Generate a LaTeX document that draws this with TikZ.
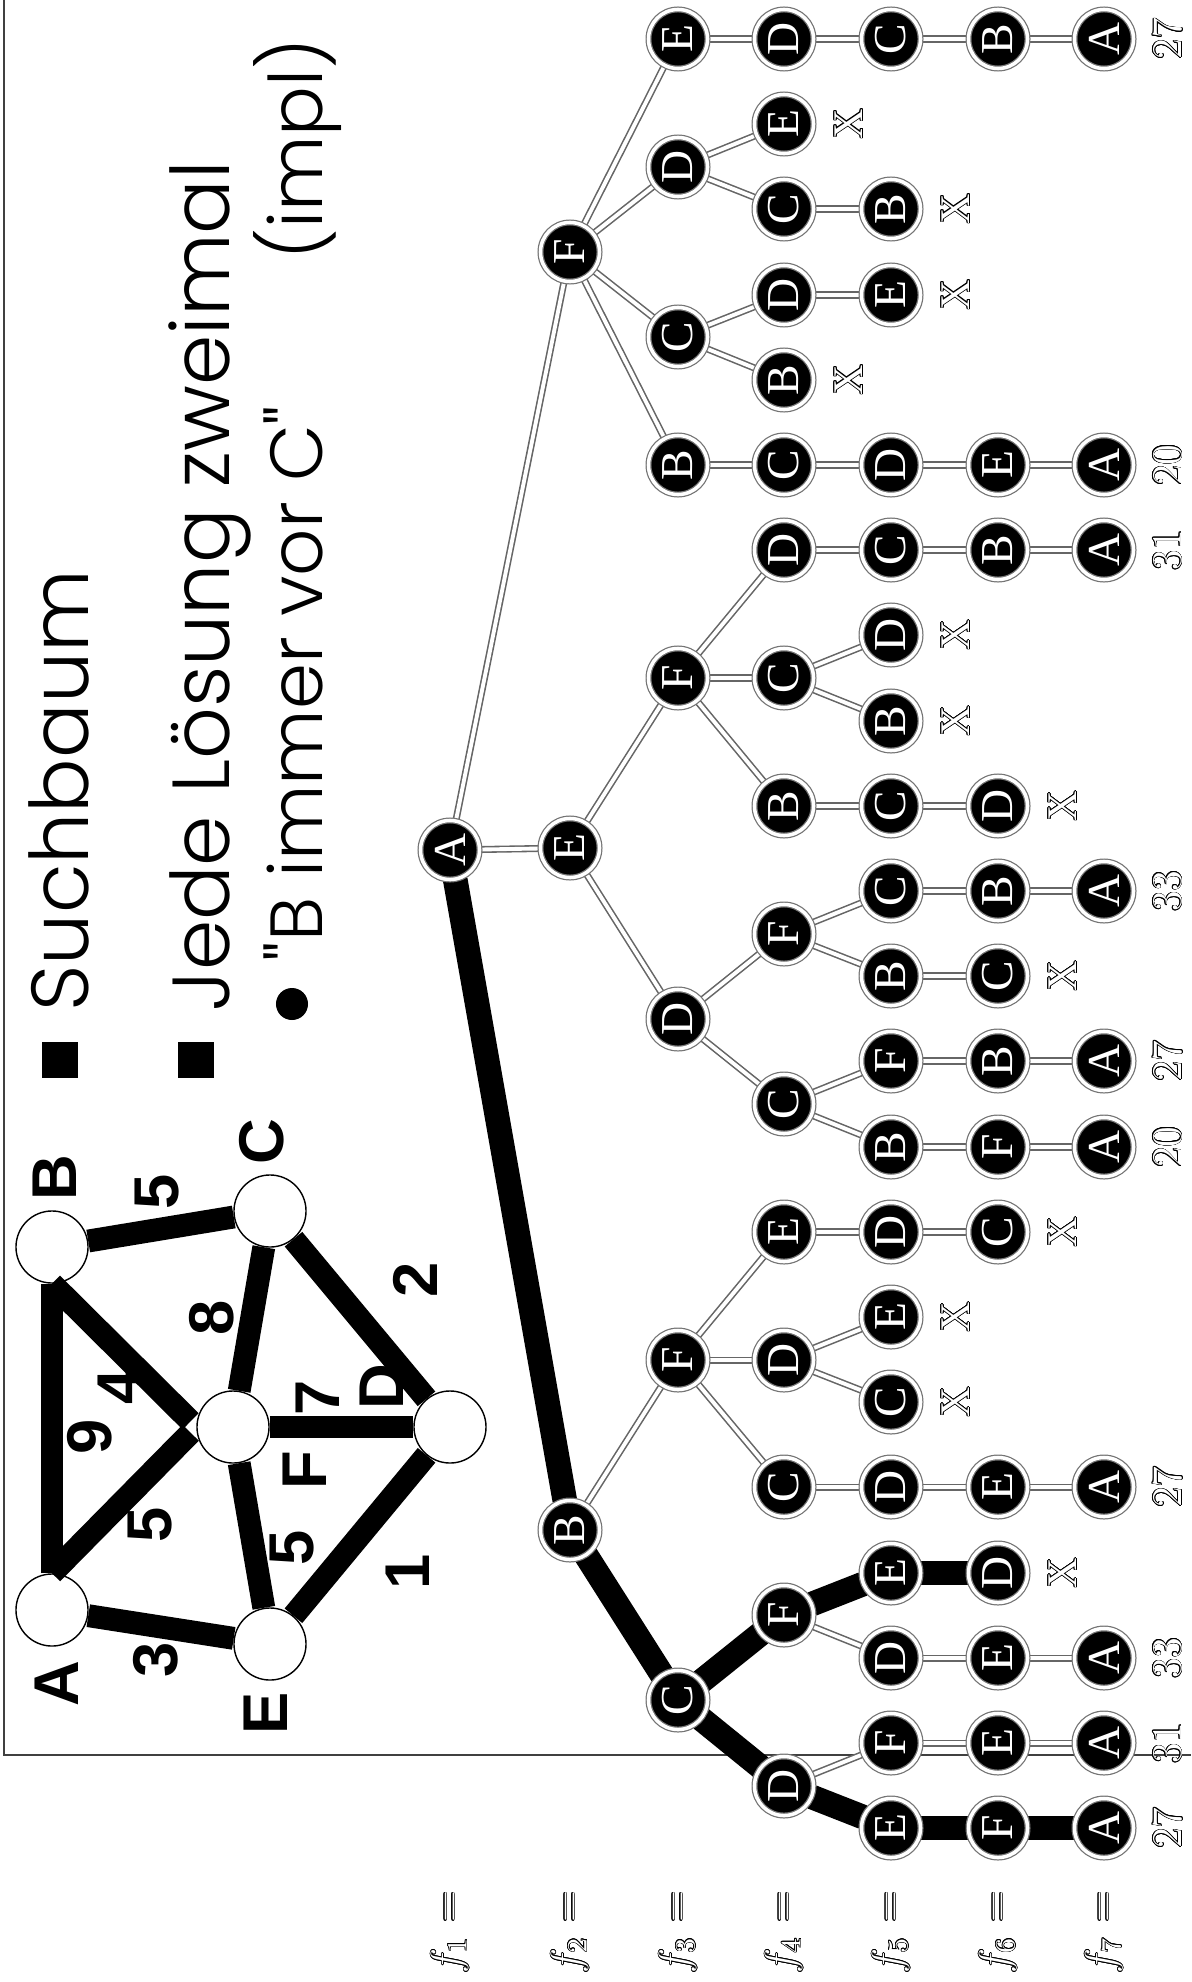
\documentclass[tikz,border=0pt]{standalone}
\usepackage{fontspec}
\usepackage[copies]{contour}
\usetikzlibrary{backgrounds}
\newfontfamily\titlefont{Poppins}[UprightFont={* Light}]
\newfontfamily\graphfont{Liberation Sans}
\newfontfamily\treefont{Liberation Serif}
\contourlength{0.18pt}
\contournumber{16}
\tikzset{
    tnode/.style={circle, fill=black, draw=black!55, double=white,
                  double distance=1pt, line width=0.35pt, minimum size=0.59cm,
                  inner sep=0pt, text=white, rotate=90,
                  font=\treefont\fontsize{13}{13}\selectfont},
    gvert/.style={circle, draw, line width=0.4pt, fill=white,
                  minimum size=0.72cm, inner sep=0pt},
    glab/.style={inner sep=0pt, rotate=90,
                 font=\graphfont\bfseries\fontsize{18}{18}\selectfont},
    tedge/.style={draw=black!60, double=white, double distance=1.1pt,
                  line width=0.45pt},
    bedge/.style={line width=7pt},
    gedge/.style={line width=6.5pt},
    xmark/.style={inner sep=0pt, rotate=90, text=white,
                  font=\treefont\fontsize{12}{12}\selectfont},
    val/.style={inner sep=0pt, rotate=90, text=white,
                font=\fontsize{12}{12}\selectfont},
    ttl/.style={inner sep=0pt, rotate=90,
                font=\titlefont\fontsize{23}{27}\selectfont},
    subttl/.style={inner sep=0pt, rotate=90,
                   font=\titlefont\fontsize{21}{25}\selectfont},
}
\begin{document}
\begin{tikzpicture}[x=0.01cm, y=-0.01cm]
    \useasboundingbox (0,0) rectangle (1191,1982);

    % text
    \fill (42,1042) rectangle (78,1078);
    \fill (178,1042) rectangle (214,1078);
    \fill (292,1004) circle[radius=0.16cm];
    \node[ttl, anchor=base west] (t1) at (88,1012) {Suchbaum};
    \node[ttl, anchor=base west] (t2) at (229,1012) {Jede Lösung zweimal};
    \node[subttl, anchor=base west] (t3) at (322,962) {"B immer vor C"};
    \node[subttl, anchor=base east] (t4) at (322,38) {(impl)};

    % graph
    \node[gvert] (gA) at (52,1610) {};
    \node[gvert] (gB) at (52,1247) {};
    \node[gvert] (gC) at (270,1211) {};
    \node[gvert] (gD) at (450,1427) {};
    \node[gvert] (gE) at (270,1644) {};
    \node[gvert] (gF) at (233,1427) {};
    \node[glab] (lA) at (57,1684) {A};
    \node[glab] (lB) at (55,1178) {B};
    \node[glab] (lC) at (262,1142) {C};
    \node[glab] (lD) at (382,1387) {D};
    \node[glab] (lE) at (266,1713) {E};
    \node[glab] (lF) at (305,1470) {F};
    \node[glab] (wAB) at (90,1437) {9};
    \node[glab] (wBF) at (120,1387) {4};
    \node[glab] (wAF) at (150,1525) {5};
    \node[glab] (wBC) at (157,1192) {5};
    \node[glab] (wCF) at (212,1318) {8};
    \node[glab] (wCD) at (415,1280) {2};
    \node[glab] (wFD) at (318,1398) {7};
    \node[glab] (wFE) at (292,1548) {5};
    \node[glab] (wED) at (408,1572) {1};
    \node[glab] (wAE) at (156,1660) {3};
    \draw[gedge] (gA) -- (gB);
    \draw[gedge, shorten >=0.08cm] (gB.south) -- (gF.west);
    \draw[gedge, shorten >=0.08cm] (gA.north) -- (gF.west);
    \draw[gedge] (gB) -- (gC);
    \draw[gedge] (gC) -- (gF);
    \draw[gedge] (gC) -- (gD);
    \draw[gedge] (gF) -- (gD);
    \draw[gedge] (gF) -- (gE);
    \draw[gedge] (gE) -- (gD);
    \draw[gedge] (gA) -- (gE);

    % search tree
    \node[tnode] (a) at (450,850) {A};
    \node[tnode] (f) at (570,252) {F};
    \node[tnode] (e) at (570,848) {E};
    \node[tnode] (b) at (570,1530) {B};
    % below F
    \node[tnode] (fE) at (678,39) {E};
    \node[tnode] (fED) at (784,39) {D};
    \node[tnode] (fEDC) at (891,39) {C};
    \node[tnode] (fEDCB) at (998,39) {B};
    \node[tnode] (fEDCBA) at (1104,39) {A};
    \node[tnode] (fD) at (678,167) {D};
    \node[tnode] (fDE) at (784,124) {E};
    \node[tnode] (fDC) at (784,209) {C};
    \node[tnode] (fDCB) at (891,209) {B};
    \node[tnode] (fC) at (678,337) {C};
    \node[tnode] (fCD) at (784,295) {D};
    \node[tnode] (fCDE) at (891,295) {E};
    \node[tnode] (fCB) at (784,380) {B};
    \node[tnode] (fB) at (678,465) {B};
    \node[tnode] (fBC) at (784,465) {C};
    \node[tnode] (fBCD) at (891,465) {D};
    \node[tnode] (fBCDE) at (998,465) {E};
    \node[tnode] (fBCDEA) at (1104,465) {A};
    % below E
    \node[tnode] (eF) at (678,678) {F};
    \node[tnode] (eFD) at (784,550) {D};
    \node[tnode] (eFDC) at (891,550) {C};
    \node[tnode] (eFDCB) at (998,550) {B};
    \node[tnode] (eFDCBA) at (1104,550) {A};
    \node[tnode] (eFC) at (784,678) {C};
    \node[tnode] (eFCD) at (891,635) {D};
    \node[tnode] (eFCB) at (891,721) {B};
    \node[tnode] (eFB) at (784,806) {B};
    \node[tnode] (eFBC) at (891,806) {C};
    \node[tnode] (eFBCD) at (998,806) {D};
    \node[tnode] (eD) at (678,1019) {D};
    \node[tnode] (eDF) at (784,934) {F};
    \node[tnode] (eDFC) at (891,891) {C};
    \node[tnode] (eDFCB) at (998,891) {B};
    \node[tnode] (eDFCBA) at (1104,891) {A};
    \node[tnode] (eDFB) at (891,976) {B};
    \node[tnode] (eDFBC) at (998,976) {C};
    \node[tnode] (eDC) at (784,1104) {C};
    \node[tnode] (eDCF) at (891,1061) {F};
    \node[tnode] (eDCFB) at (998,1061) {B};
    \node[tnode] (eDCFBA) at (1104,1061) {A};
    \node[tnode] (eDCB) at (891,1147) {B};
    \node[tnode] (eDCBF) at (998,1147) {F};
    \node[tnode] (eDCBFA) at (1104,1147) {A};
    % below B
    \node[tnode] (bF) at (678,1360) {F};
    \node[tnode] (bFE) at (784,1232) {E};
    \node[tnode] (bFED) at (891,1232) {D};
    \node[tnode] (bFEDC) at (998,1232) {C};
    \node[tnode] (bFD) at (784,1360) {D};
    \node[tnode] (bFDE) at (891,1317) {E};
    \node[tnode] (bFDC) at (891,1402) {C};
    \node[tnode] (bFC) at (784,1487) {C};
    \node[tnode] (bFCD) at (891,1487) {D};
    \node[tnode] (bFCDE) at (998,1487) {E};
    \node[tnode] (bFCDEA) at (1104,1487) {A};
    \node[tnode] (bC) at (678,1700) {C};
    \node[tnode] (bCF) at (784,1615) {F};
    \node[tnode] (bCFE) at (891,1573) {E};
    \node[tnode] (bCFED) at (998,1573) {D};
    \node[tnode] (bCFD) at (891,1658) {D};
    \node[tnode] (bCFDE) at (998,1658) {E};
    \node[tnode] (bCFDEA) at (1104,1658) {A};
    \node[tnode] (bCD) at (784,1786) {D};
    \node[tnode] (bCDF) at (891,1743) {F};
    \node[tnode] (bCDFE) at (998,1743) {E};
    \node[tnode] (bCDFEA) at (1104,1743) {A};
    \node[tnode] (bCDE) at (891,1828) {E};
    \node[tnode] (bCDEF) at (998,1828) {F};
    \node[tnode] (bCDEFA) at (1104,1828) {A};

    % dead ends and tour lengths
    \node[xmark] (x1) at (849,124) {\contour{black}{X}};
    \node[xmark] (x2) at (956,209) {\contour{black}{X}};
    \node[xmark] (x3) at (956,295) {\contour{black}{X}};
    \node[xmark] (x4) at (849,380) {\contour{black}{X}};
    \node[xmark] (x5) at (956,635) {\contour{black}{X}};
    \node[xmark] (x6) at (956,721) {\contour{black}{X}};
    \node[xmark] (x7) at (1063,806) {\contour{black}{X}};
    \node[xmark] (x8) at (1063,976) {\contour{black}{X}};
    \node[xmark] (x9) at (1063,1232) {\contour{black}{X}};
    \node[xmark] (x10) at (956,1317) {\contour{black}{X}};
    \node[xmark] (x11) at (956,1402) {\contour{black}{X}};
    \node[xmark] (x12) at (1063,1573) {\contour{black}{X}};
    \node[val] (v1) at (1168,39) {\contour{black}{27}};
    \node[val] (v2) at (1168,465) {\contour{black}{20}};
    \node[val] (v3) at (1168,550) {\contour{black}{31}};
    \node[val] (v4) at (1168,891) {\contour{black}{33}};
    \node[val] (v5) at (1168,1061) {\contour{black}{27}};
    \node[val] (v6) at (1168,1147) {\contour{black}{20}};
    \node[val] (v7) at (1168,1487) {\contour{black}{27}};
    \node[val] (v8) at (1168,1658) {\contour{black}{33}};
    \node[val] (v9) at (1168,1743) {\contour{black}{31}};
    \node[val] (v10) at (1168,1828) {\contour{black}{27}};
    \foreach \i/\xx in {1/450, 2/570, 3/678, 4/784, 5/891, 6/998, 7/1104}
        \node[val] (lf\i) at (\xx,1932) {\contour{black}{$f_{\i}$ =}};

    \begin{scope}[on background layer]
        \draw[line width=0.6pt, black!75] (4,0) -- (4,1755) -- (1191,1755);
        \foreach \p/\c in {a/f, a/e,
            f/fE, fE/fED, fED/fEDC, fEDC/fEDCB, fEDCB/fEDCBA,
            f/fD, fD/fDE, fD/fDC, fDC/fDCB,
            f/fC, fC/fCD, fCD/fCDE, fC/fCB,
            f/fB, fB/fBC, fBC/fBCD, fBCD/fBCDE, fBCDE/fBCDEA,
            e/eF, eF/eFD, eFD/eFDC, eFDC/eFDCB, eFDCB/eFDCBA,
            eF/eFC, eFC/eFCD, eFC/eFCB,
            eF/eFB, eFB/eFBC, eFBC/eFBCD,
            e/eD, eD/eDF, eDF/eDFC, eDFC/eDFCB, eDFCB/eDFCBA,
            eDF/eDFB, eDFB/eDFBC,
            eD/eDC, eDC/eDCF, eDCF/eDCFB, eDCFB/eDCFBA,
            eDC/eDCB, eDCB/eDCBF, eDCBF/eDCBFA,
            b/bF, bF/bFE, bFE/bFED, bFED/bFEDC,
            bF/bFD, bFD/bFDE, bFD/bFDC,
            bF/bFC, bFC/bFCD, bFCD/bFCDE, bFCDE/bFCDEA,
            bCF/bCFD, bCFD/bCFDE, bCFDE/bCFDEA,
            bCD/bCDF, bCDF/bCDFE, bCDFE/bCDFEA}
            \draw[tedge] (\p) -- (\c);
        \foreach \p/\c in {a/b, b/bC, bC/bCF, bCF/bCFE, bCFE/bCFED,
            bC/bCD, bCD/bCDE, bCDE/bCDEF, bCDEF/bCDEFA}
            \draw[bedge] (\p) -- (\c);
    \end{scope}
\end{tikzpicture}
\end{document}
